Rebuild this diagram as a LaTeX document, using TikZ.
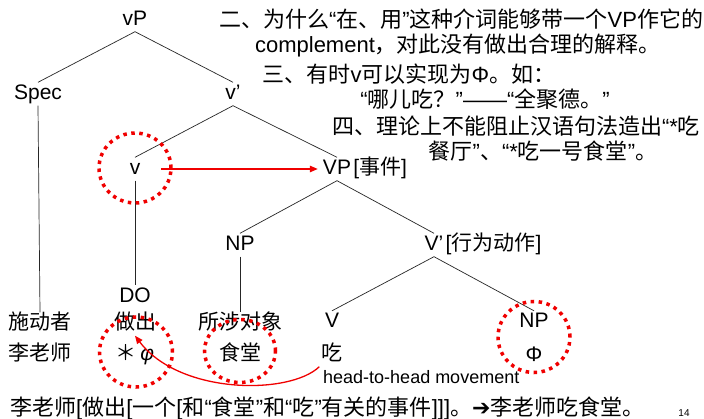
\documentclass[tikz,border=0pt]{standalone}
\usepackage{fontspec}
\setmainfont{Liberation Sans}
\newfontfamily\cjk{Noto Sans CJK SC}
\newfontfamily\djv{DejaVu Sans}
\newcommand\zh[1]{{\cjk #1}}
\usetikzlibrary{arrows.meta,calc,shapes.geometric}
\definecolor{pptred}{RGB}{240,0,0}
\begin{document}
\begin{tikzpicture}[x=1pt,y=-1pt,
  lbl/.style={font=\fontsize{21}{25}\selectfont, inner sep=2pt, text height=15pt, text depth=4pt, anchor=base},
  txt/.style={font=\fontsize{22}{26}\selectfont, inner sep=0pt, anchor=base},
  tree/.style={line width=0.7pt, black!85},
  dotc/.style={draw=pptred, ellipse, line width=3.5pt, dash pattern=on 3.5pt off 4.5pt, inner sep=0pt},
  redarr/.style={draw=pptred, line width=1.3pt, -{Triangle[length=8pt,width=6.5pt]}}]
\fill[white] (0,0) rectangle (704,419);
\useasboundingbox (0,0) rectangle (704,419);

% tree labels
\node[lbl] (vP) at (135,25.5) {vP};
\node[lbl] (Spec) at (38,99.5) {Spec};
\node[lbl] (vbar) at (233,99.5) {v’};
\node[lbl] (v) at (135,174.5) {v};
\node[lbl] (VP) at (337,174.5) {VP};
\node[lbl, inner sep=0pt, anchor=base west] (VPe) at (VP.base east) {[\zh{事件}]};
\node[lbl] (NPa) at (240,250.5) {NP};
\node[lbl] (Vbar) at (434,250.5) {V’};
\node[lbl, inner sep=0pt, anchor=base west] (Vbare) at (Vbar.base east) {[\zh{行为动作}]};
\node[lbl] (DO) at (135,302.5) {DO};
\node[lbl] (agent) at (40,329.5) {\zh{施动者}};
\node[lbl] (zuochu) at (135,329.5) {\zh{做出}};
\node[lbl] (obj) at (240,329.5) {\zh{所涉对象}};
\node[lbl] (V) at (332,328) {V};
\node[lbl] (NPb) at (534,328) {NP};
\node[lbl] (li) at (40,360.5) {\zh{李老师}};
\node[lbl] (phi) at (135,360.5) {\zh{＊}\,\textit{φ}};
\node[lbl] (st) at (240,360.5) {\zh{食堂}};
\node[lbl] (chi) at (332,360.5) {\zh{吃}};
\node[lbl] (Phi) at (534,362) {Φ};

% tree lines
\draw[tree] (vP.south) -- (Spec.north);
\draw[tree] (vP.south) -- (vbar.north);
\draw[tree] (vbar.south) -- (v.north);
\draw[tree] (vbar.south) -- (VP.north);
\draw[tree] (Spec.south) -- (agent.north);
\draw[tree] (v.south) -- (DO.north);
\draw[tree] (VP.south) -- (NPa.north);
\draw[tree] (VP.south) -- (Vbar.north);
\draw[tree] (NPa.south) -- (obj.north);
\draw[tree] (Vbar.south) -- (V.north);
\draw[tree] (Vbar.south) -- (NPb.north);

% red dotted circles
\node[dotc, minimum width=72pt, minimum height=70pt] (cv) at (135,168) {};
\node[dotc, minimum width=73pt, minimum height=70pt] (cphi) at (136,352) {};
\node[dotc, minimum width=71pt, minimum height=63pt] (cst) at (240,351) {};
\node[dotc, minimum width=72pt, minimum height=71pt] (cnp) at (534,337) {};

% red arrows
\draw[redarr, shorten <=19pt, shorten >=3pt] (v.east) -- (VP.west);
\draw[redarr] (chi.south west) .. controls (290,395) and (180,395) .. (zuochu.south);

\node[font=\fontsize{18}{21}\selectfont, inner sep=0pt, anchor=base west] (mv) at (323,383.5) {head-to-head movement};

% right text block
\node[txt] (t1) at (461,28) {\zh{二、为什么}“\zh{在、用}”\zh{这种介词能够带一个}VP\zh{作它的}};
\node[txt] (t2) at (458,53) {complement\zh{，对此没有做出合理的解释。}};
\node[txt] (t3) at (409,83) {\zh{三、有时}v\zh{可以实现为}Φ\zh{。如：}};
\node[txt] (t4) at (485,108) {“\zh{哪儿吃？}”——“\zh{全聚德。}”};
\node[txt] (t5) at (516,135) {\zh{四、理论上不能阻止汉语句法造出}“*\zh{吃}};
\node[txt] (t6) at (543,160) {\zh{餐厅}”\zh{、}“*\zh{吃一号食堂}”\zh{。}};

% bottom line
\node[txt, anchor=base west] (bottom) at (10,415) {\zh{李老师}[\zh{做出}[\zh{一个}[\zh{和}“\zh{食堂}”\zh{和}“\zh{吃}”\zh{有关的事件}]]]\zh{。}{\djv ➔}\zh{李老师吃食堂。}};
\node[font=\fontsize{10}{12}\selectfont, inner sep=0pt, anchor=base] (pg) at (684,416) {14};
\end{tikzpicture}
\end{document}
